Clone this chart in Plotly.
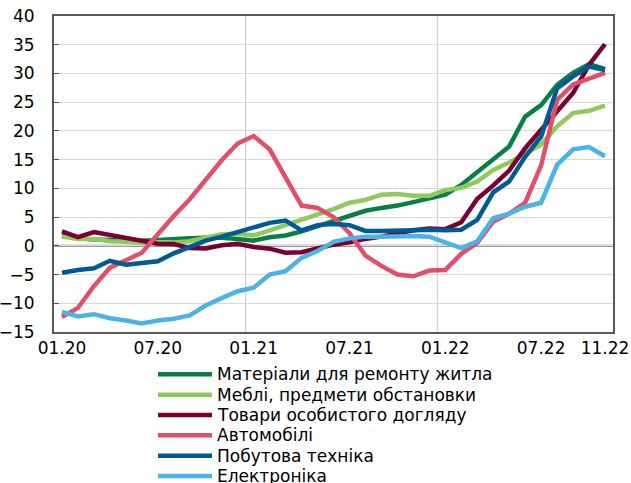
import plotly.graph_objects as go

months = ["01.20", "02.20", "03.20", "04.20", "05.20", "06.20", "07.20", "08.20", "09.20", "10.20", "11.20", "12.20",
          "01.21", "02.21", "03.21", "04.21", "05.21", "06.21", "07.21", "08.21", "09.21", "10.21", "11.21", "12.21",
          "01.22", "02.22", "03.22", "04.22", "05.22", "06.22", "07.22", "08.22", "09.22", "10.22", "11.22"]

tick_labels = ["01.20", "07.20", "01.21", "07.21", "01.22", "07.22", "11.22"]

materials = [1.8, 1.3, 1.1, 1.0, 0.9, 0.9, 1.0, 1.2, 1.3, 1.4, 1.4, 1.2, 0.9, 1.5, 1.8, 2.5, 3.4, 4.5, 5.4, 6.1, 6.6,
             7.0, 7.6, 8.2, 8.9, 10.6, 12.9, 15.2, 17.3, 22.5, 24.5, 28.0, 30.1, 31.6, 30.8]
furniture = [1.6, 1.2, 1.2, 0.8, 0.7, 0.5, 0.6, 0.6, 0.8, 1.4, 2.0, 2.1, 1.8, 2.7, 3.6, 4.4, 5.3, 6.4, 7.5, 8.0, 8.9,
             9.0, 8.7, 8.7, 9.7, 10.1, 11.2, 13.2, 14.5, 16.1, 17.6, 20.8, 23.1, 23.5, 24.4]
personal = [2.5, 1.5, 2.4, 1.9, 1.5, 1.0, 0.35, 0.3, -0.4, -0.45, 0.1, 0.35, -0.2, -0.5, -1.2, -1.1, -0.4, 0.2, 0.6,
            1.2, 1.6, 2.2, 2.7, 3.0, 2.9, 4.1, 8.2, 10.5, 13.1, 17.0, 20.2, 23.6, 26.6, 31.5, 35.1]
cars = [-12.4, -10.8, -7.0, -3.8, -2.5, -1.2, 2.0, 5.2, 8.1, 11.5, 14.9, 17.8, 19.1, 16.8, 12.0, 7.0, 6.6, 5.0, 2.2,
        -1.7, -3.5, -5.0, -5.3, -4.3, -4.2, -1.4, 0.5, 4.2, 5.6, 7.5, 14.0, 25.4, 28.1, 29.1, 30.1]
appliances = [-4.7, -4.2, -3.9, -2.6, -3.3, -3.0, -2.7, -1.3, -0.3, 0.9, 1.6, 2.4, 3.4, 4.0, 4.4, 2.7, 3.6, 3.8, 3.6,
              2.6, 2.6, 2.6, 2.7, 2.8, 2.7, 2.8, 4.5, 9.3, 11.2, 15.5, 19.0, 27.4, 29.5, 31.2, 30.6]
electronics = [-11.5, -12.3, -11.9, -12.6, -13.0, -13.5, -13.0, -12.7, -12.1, -10.4, -9.1, -7.9, -7.3, -5.0, -4.4,
               -2.1, -0.9, 0.7, 1.3, 1.6, 1.6, 1.7, 1.7, 1.6, 0.5, -0.4, 0.8, 4.8, 5.6, 6.8, 7.5, 14.1, 16.8, 17.2, 15.6]

series_names = ["Матеріали для ремонту житла", "Меблі, предмети обстановки", "Товари особистого догляду",
                "Автомобілі", "Побутова техніка", "Електроніка"]
series_values = [materials, furniture, personal, cars, appliances, electronics]
series_colors = ["#0A7F45", "#92C95E", "#7A0034", "#E0506A", "#005A94", "#4CB3E6"]

FONT = "DejaVu Sans, Liberation Sans, Arial, sans-serif"
W, H = 631, 483
ML, MR, MT, MB = 54, 18, 16, 151
PW, PH = W - ML - MR, H - MT - MB


def px2paper_x(px):
    return (px - ML) / PW


def px2paper_y(py):
    return (H - MB - py) / PH


fig = go.Figure()
for name, vals, color in zip(series_names, series_values, series_colors):
    fig.add_trace(go.Scatter(x=months, y=vals, name=name, mode="lines",
                             line=dict(color=color, width=4.5), showlegend=False))

# vertical gridlines at year boundaries
for xb in (11.5, 23.5):
    fig.add_shape(type="line", xref="x", yref="paper", x0=xb, x1=xb, y0=0, y1=1,
                  line=dict(color="#C8C8C8", width=1), layer="below")

# zero line
fig.add_shape(type="line", xref="paper", yref="y", x0=0, x1=1, y0=0, y1=0,
              line=dict(color="#7A7A7A", width=2), layer="below")

# legend (drawn below the plot, stacked tightly like the original)
for k, (name, color) in enumerate(zip(series_names, series_colors)):
    yc = px2paper_y(374.3 + 20.35 * k)
    fig.add_shape(type="line", xref="paper", yref="paper",
                  x0=px2paper_x(158), x1=px2paper_x(212), y0=yc, y1=yc,
                  line=dict(color=color, width=4.5))
    fig.add_annotation(xref="paper", yref="paper", x=px2paper_x(215), y=yc,
                       xanchor="left", yanchor="middle", text=name, showarrow=False,
                       font=dict(family=FONT, size=17, color="#000000"))

fig.update_layout(
    width=W, height=H,
    margin=dict(l=ML, r=MR, t=MT, b=MB, autoexpand=False),
    paper_bgcolor="white", plot_bgcolor="white",
    font=dict(family=FONT, size=17, color="#000000"),
    showlegend=False,
    xaxis=dict(type="category", categoryorder="array", categoryarray=months,
               range=[-0.5, 34.5], tickmode="array", tickvals=tick_labels, ticktext=tick_labels,
               showgrid=False, zeroline=False, showline=True, mirror=True,
               linecolor="#595959", linewidth=2, ticks="",
               tickfont=dict(family=FONT, size=17, color="#000000")),
    yaxis=dict(range=[-15, 40], dtick=5, tick0=0, showgrid=True, gridcolor="#D9D9D9", gridwidth=1,
               zeroline=False, showline=True, mirror=True, linecolor="#595959", linewidth=2,
               ticks="inside", ticklen=5, tickcolor="#595959", tickwidth=1,
               ticklabelstandoff=14,
               tickfont=dict(family=FONT, size=17, color="#000000")),
)

fig.write_html("out.html", config={"displayModeBar": False},
               post_script="document.body.style.margin='0px';document.body.style.overflow='hidden';")
